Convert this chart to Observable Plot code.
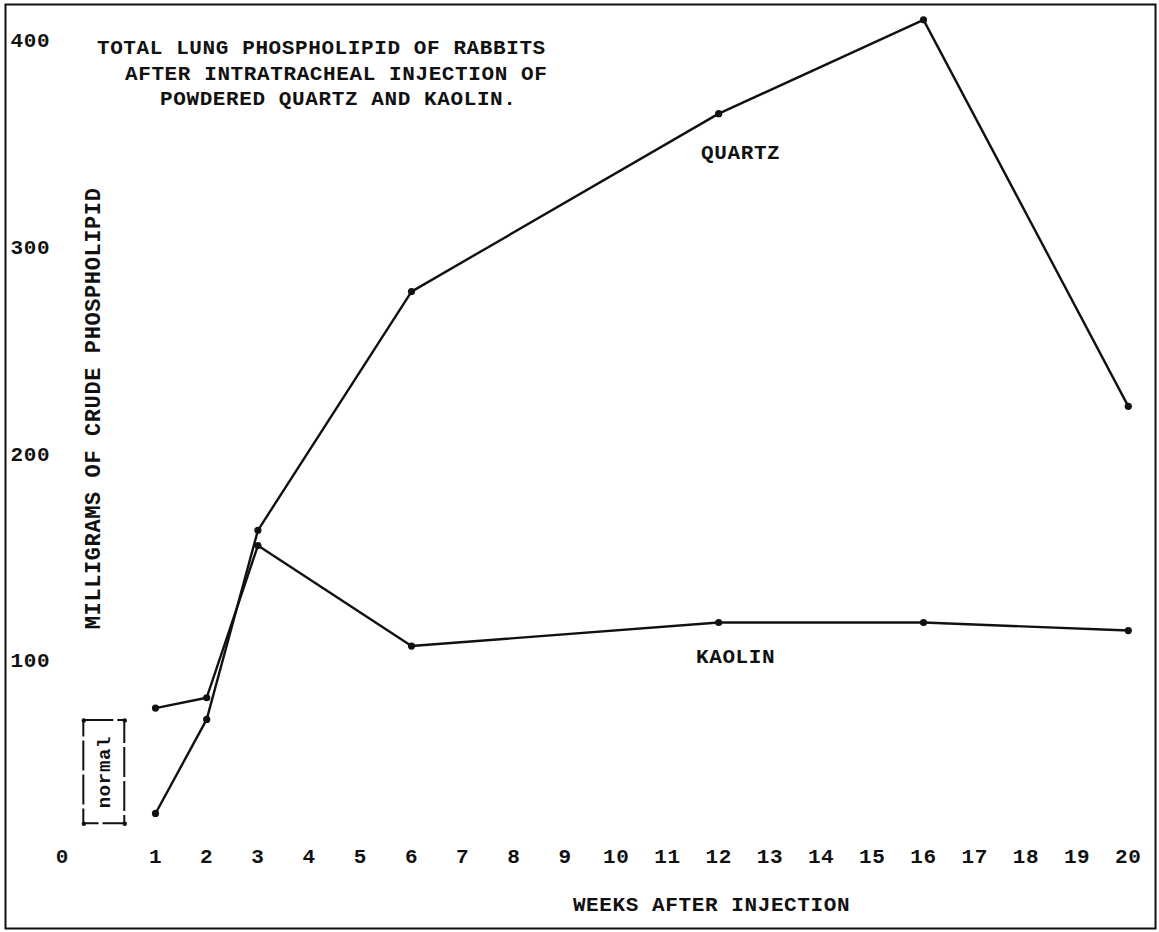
<!DOCTYPE html>
<html><head><meta charset="utf-8">
<script src="https://cdn.jsdelivr.net/npm/d3@7"></script>
<script src="https://cdn.jsdelivr.net/npm/@observablehq/plot@0.6"></script>
<style>body{margin:0;background:#fff} svg text{letter-spacing:0.6px}</style>
</head><body><div id="chart"></div>
<script>
// Data
const weeks = [1, 2, 3, 6, 12, 16, 20];
const quartz = [26, 71.5, 163, 278.5, 364.6, 410, 223];
const kaolin = [77, 82, 155.6, 107, 118.4, 118.4, 114.5];
const normalWeek = 0;
const normalLow = 21, normalHigh = 71;
const xTicks = d3.range(1, 21);
const yTicks = [100, 200, 300, 400];
const titleLines = ["TOTAL LUNG PHOSPHOLIPID OF RABBITS", "AFTER INTRATRACHEAL INJECTION OF", "POWDERED QUARTZ AND KAOLIN."];
const seriesNames = ["QUARTZ", "KAOLIN"];
const xLabel = "WEEKS AFTER INJECTION";
const yLabel = "MILLIGRAMS OF CRUDE PHOSPHOLIPID";

const quartzData = weeks.map((w, i) => ({week: w, mg: quartz[i]}));
const kaolinData = weeks.map((w, i) => ({week: w, mg: kaolin[i]}));
const normalBox = [{week: normalWeek, low: normalLow, high: normalHigh}];
const normalCorners = [normalLow, normalHigh].flatMap(v => [{week: normalWeek, mg: v, side: -1}, {week: normalWeek, mg: v, side: 1}]);

const FONT = "'Liberation Mono', 'DejaVu Sans Mono', monospace";
const ink = "#111";

const chart = Plot.plot({
  width: 1159, height: 932,
  marginTop: 4, marginLeft: 5, marginRight: 4, marginBottom: 4,
  style: {fontFamily: FONT, background: "#fff", color: ink},
  x: {domain: [0, 20], range: [103.8, 1127.8], axis: null},
  y: {domain: [0, 400], range: [866.7, 40], axis: null},
  marks: [
    Plot.frame({stroke: ink, strokeWidth: 2}),
    // y tick labels
    Plot.text(yTicks, {y: d => d, text: d => String(d), frameAnchor: "left", textAnchor: "start", dx: 5, fontSize: 21, fontWeight: "bold", fill: ink}),
    // x tick labels
    Plot.text(xTicks, {x: d => d, text: d => String(d), frameAnchor: "bottom", dy: -66, fontSize: 21, fontWeight: "bold", fill: ink}),
    Plot.text(["0"], {x: normalWeek, text: d => d, frameAnchor: "bottom", dx: -42, dy: -66, fontSize: 21, fontWeight: "bold", fill: ink}),
    // axis titles
    Plot.text([xLabel], {text: d => d, frameAnchor: "bottom", textAnchor: "middle", dx: 131, dy: -18, fontSize: 21, fill: ink, fontWeight: "bold"}),
    Plot.text([yLabel], {text: d => d, frameAnchor: "left", textAnchor: "middle", y: 222, dx: 87, rotate: -90, fontSize: 22, fill: ink, fontWeight: "bold"}),
    // title
    Plot.text([titleLines[0]], {text: d => d, x: 4.24, y: 396.6, fontSize: 21, fontWeight: "bold", fill: ink}),
    Plot.text([titleLines[1]], {text: d => d, x: 4.53, y: 384, fontSize: 21, fontWeight: "bold", fill: ink}),
    Plot.text([titleLines[2]], {text: d => d, x: 4.57, y: 372, fontSize: 21, fontWeight: "bold", fill: ink}),
    // normal range box
    Plot.rect(normalBox, {x1: d => d.week - 0.4, x2: d => d.week + 0.4, y1: "low", y2: "high", fill: "none", stroke: ink, strokeWidth: 2, strokeDasharray: "30 4"}),
    Plot.dot(normalCorners, {x: d => d.week + d.side * 0.4, y: "mg", r: 2.2, fill: ink}),
    Plot.text(["normal"], {x: normalWeek, y: (normalLow + normalHigh) / 2, text: d => d, rotate: -90, fontSize: 19, fontWeight: "bold", fill: ink}),
    // series
    Plot.line(quartzData, {x: "week", y: "mg", stroke: ink, strokeWidth: 2.4}),
    Plot.line(kaolinData, {x: "week", y: "mg", stroke: ink, strokeWidth: 2.4}),
    Plot.dot(quartzData, {x: "week", y: "mg", r: 3.6, fill: ink}),
    Plot.dot(kaolinData, {x: "week", y: "mg", r: 3.6, fill: ink}),
    // series labels
    Plot.text([seriesNames[0]], {text: d => d, x: 12.43, y: 345.8, fontSize: 21, fontWeight: "bold", fill: ink}),
    Plot.text([seriesNames[1]], {text: d => d, x: 12.33, y: 101.9, fontSize: 21, fontWeight: "bold", fill: ink})
  ]
});
document.getElementById("chart").append(chart);
</script>
</body></html>
